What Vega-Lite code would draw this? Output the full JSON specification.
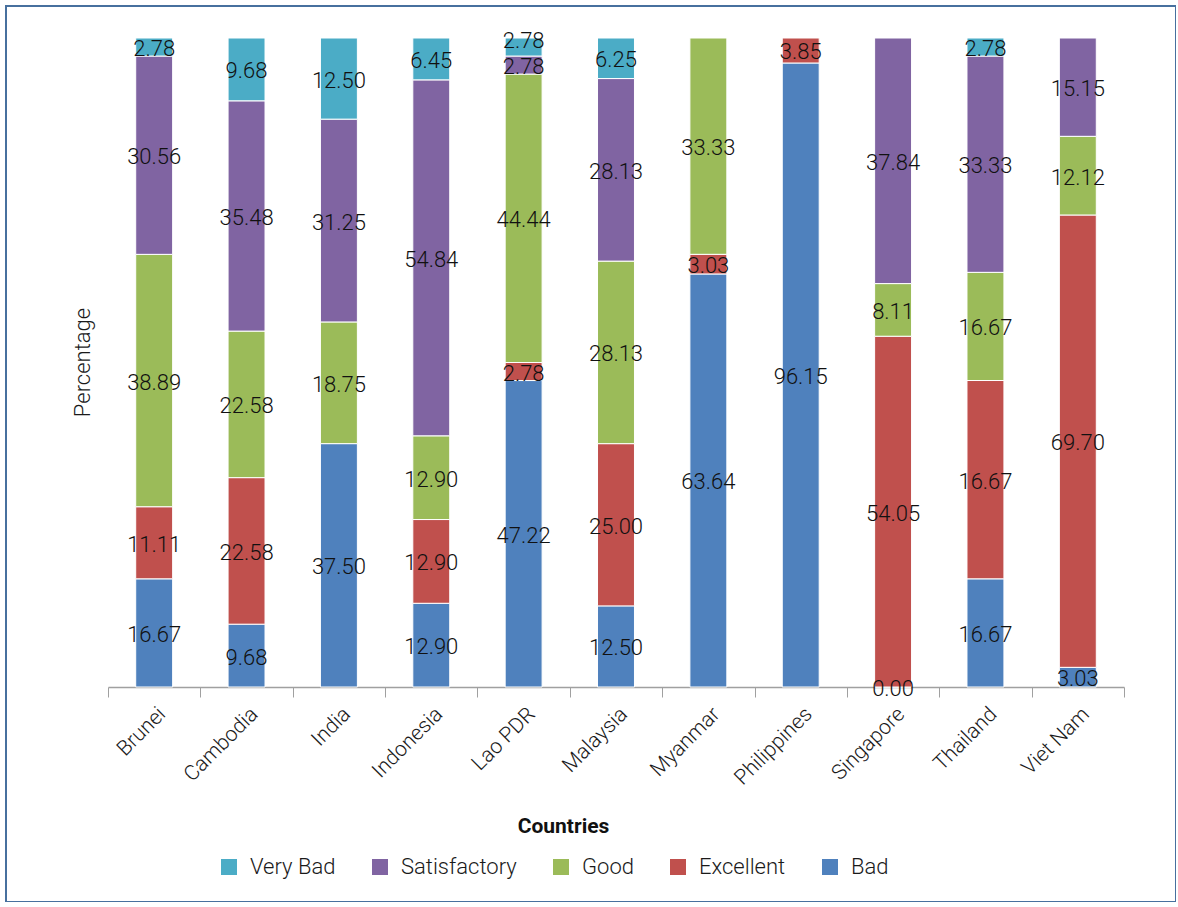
{
  "$schema": "https://vega.github.io/schema/vega-lite/v6.json",
  "width": 1170,
  "height": 896,
  "padding": {"left": 6, "top": 6, "right": 0, "bottom": 0},
  "autosize": {"type": "none"},
  "background": "#ffffff",
  "config": {
    "font": "Roboto",
    "view": {"stroke": "#47709E", "strokeWidth": 2},
    "axis": {"grid": false}
  },
  "data": {
    "values": [
      {"country": "Brunei", "rating": "Bad", "value": 16.67, "label": "16.67"},
      {"country": "Brunei", "rating": "Excellent", "value": 11.11, "label": "11.11"},
      {"country": "Brunei", "rating": "Good", "value": 38.89, "label": "38.89"},
      {"country": "Brunei", "rating": "Satisfactory", "value": 30.56, "label": "30.56"},
      {"country": "Brunei", "rating": "Very Bad", "value": 2.78, "label": "2.78"},
      {"country": "Cambodia", "rating": "Bad", "value": 9.68, "label": "9.68"},
      {"country": "Cambodia", "rating": "Excellent", "value": 22.58, "label": "22.58"},
      {"country": "Cambodia", "rating": "Good", "value": 22.58, "label": "22.58"},
      {"country": "Cambodia", "rating": "Satisfactory", "value": 35.48, "label": "35.48"},
      {"country": "Cambodia", "rating": "Very Bad", "value": 9.68, "label": "9.68"},
      {"country": "India", "rating": "Bad", "value": 37.5, "label": "37.50"},
      {"country": "India", "rating": "Good", "value": 18.75, "label": "18.75"},
      {"country": "India", "rating": "Satisfactory", "value": 31.25, "label": "31.25"},
      {"country": "India", "rating": "Very Bad", "value": 12.5, "label": "12.50"},
      {"country": "Indonesia", "rating": "Bad", "value": 12.9, "label": "12.90"},
      {"country": "Indonesia", "rating": "Excellent", "value": 12.9, "label": "12.90"},
      {"country": "Indonesia", "rating": "Good", "value": 12.9, "label": "12.90"},
      {"country": "Indonesia", "rating": "Satisfactory", "value": 54.84, "label": "54.84"},
      {"country": "Indonesia", "rating": "Very Bad", "value": 6.45, "label": "6.45"},
      {"country": "Lao PDR", "rating": "Bad", "value": 47.22, "label": "47.22"},
      {"country": "Lao PDR", "rating": "Excellent", "value": 2.78, "label": "2.78"},
      {"country": "Lao PDR", "rating": "Good", "value": 44.44, "label": "44.44"},
      {"country": "Lao PDR", "rating": "Satisfactory", "value": 2.78, "label": "2.78"},
      {"country": "Lao PDR", "rating": "Very Bad", "value": 2.78, "label": "2.78"},
      {"country": "Malaysia", "rating": "Bad", "value": 12.5, "label": "12.50"},
      {"country": "Malaysia", "rating": "Excellent", "value": 25.0, "label": "25.00"},
      {"country": "Malaysia", "rating": "Good", "value": 28.13, "label": "28.13"},
      {"country": "Malaysia", "rating": "Satisfactory", "value": 28.13, "label": "28.13"},
      {"country": "Malaysia", "rating": "Very Bad", "value": 6.25, "label": "6.25"},
      {"country": "Myanmar", "rating": "Bad", "value": 63.64, "label": "63.64"},
      {"country": "Myanmar", "rating": "Excellent", "value": 3.03, "label": "3.03"},
      {"country": "Myanmar", "rating": "Good", "value": 33.33, "label": "33.33"},
      {"country": "Philippines", "rating": "Bad", "value": 96.15, "label": "96.15"},
      {"country": "Philippines", "rating": "Excellent", "value": 3.85, "label": "3.85"},
      {"country": "Singapore", "rating": "Bad", "value": 0.0, "label": "0.00"},
      {"country": "Singapore", "rating": "Excellent", "value": 54.05, "label": "54.05"},
      {"country": "Singapore", "rating": "Good", "value": 8.11, "label": "8.11"},
      {"country": "Singapore", "rating": "Satisfactory", "value": 37.84, "label": "37.84"},
      {"country": "Thailand", "rating": "Bad", "value": 16.67, "label": "16.67"},
      {"country": "Thailand", "rating": "Excellent", "value": 30.56, "label": "16.67"},
      {"country": "Thailand", "rating": "Good", "value": 16.67, "label": "16.67"},
      {"country": "Thailand", "rating": "Satisfactory", "value": 33.33, "label": "33.33"},
      {"country": "Thailand", "rating": "Very Bad", "value": 2.78, "label": "2.78"},
      {"country": "Viet Nam", "rating": "Bad", "value": 3.03, "label": "3.03"},
      {"country": "Viet Nam", "rating": "Excellent", "value": 69.7, "label": "69.70"},
      {"country": "Viet Nam", "rating": "Good", "value": 12.12, "label": "12.12"},
      {"country": "Viet Nam", "rating": "Satisfactory", "value": 15.15, "label": "15.15"}
    ]
  },
  "transform": [
    {"stack": "value", "groupby": ["country"], "sort": [{"field": "rating", "order": "ascending"}], "as": ["y0", "y1"], "offset": "normalize"},
    {"calculate": "(datum.y0 + datum.y1) / 2", "as": "mid"}
  ],
  "encoding": {
    "x": {
      "field": "country",
      "type": "nominal",
      "sort": null,
      "scale": {"range": [102, 1118], "paddingInner": 0, "paddingOuter": 0},
      "axis": {
        "orient": "bottom",
        "offset": -215,
        "tickBand": "extent",
        "labelAngle": -45,
        "labelFontSize": 21,
        "labelFontWeight": 300,
        "labelColor": "#1a1a1a",
        "labelPadding": 6,
        "tickSize": 10,
        "tickColor": "#a0a0a0",
        "domainColor": "#a0a0a0",
        "domainWidth": 1.5,
        "title": "Countries",
        "titleFontSize": 21,
        "titleFontWeight": "bold",
        "titleColor": "#111111",
        "titleX": 557,
        "titleY": 139,
        "titleBaseline": "middle",
        "titleAlign": "center"
      }
    }
  },
  "layer": [
    {
      "mark": {"type": "bar", "width": {"band": 0.4}, "stroke": "#ffffff", "strokeWidth": 1},
      "encoding": {
        "y": {
          "field": "y0",
          "type": "quantitative",
          "scale": {"domain": [-0.33127, 1.04931], "nice": false, "zero": false},
          "axis": {
            "labels": false,
            "ticks": false,
            "domain": false,
            "title": "Percentage",
            "titleFontSize": 22,
            "titleFontWeight": 300,
            "titleColor": "#1a1a1a",
            "titleX": 76,
            "titleY": 356,
            "titleAngle": -90,
            "titleBaseline": "middle",
            "titleAlign": "center"
          }
        },
        "y2": {"field": "y1"},
        "color": {
          "field": "rating",
          "type": "nominal",
          "scale": {
            "domain": ["Very Bad", "Satisfactory", "Good", "Excellent", "Bad"],
            "range": ["#4BACC6", "#8064A2", "#9BBB59", "#C0504D", "#4F81BD"]
          },
          "legend": {
            "title": null,
            "orient": "none",
            "direction": "horizontal",
            "columns": 5,
            "legendX": 212,
            "legendY": 850,
            "padding": 0,
            "symbolType": "square",
            "symbolSize": 256,
            "symbolStrokeWidth": 0,
            "symbolOpacity": 1,
            "labelFontSize": 22,
            "labelFontWeight": 300,
            "labelColor": "#1a1a1a",
            "labelOffset": 10,
            "columnPadding": 33
          }
        }
      }
    },
    {
      "transform": [{"filter": "!(datum.country === 'Lao PDR' && datum.rating === 'Very Bad')"}],
      "mark": {"type": "text", "fontSize": 22, "fontWeight": 300, "color": "#111111", "baseline": "middle", "align": "center", "dy": 2},
      "encoding": {
        "y": {"field": "mid", "type": "quantitative"},
        "text": {"field": "label"}
      }
    },
    {
      "transform": [{"filter": "datum.country === 'Lao PDR' && datum.rating === 'Very Bad'"}],
      "mark": {"type": "text", "fontSize": 22, "fontWeight": 300, "color": "#111111", "baseline": "middle", "align": "center", "dy": -6},
      "encoding": {
        "y": {"field": "mid", "type": "quantitative"},
        "text": {"field": "label"}
      }
    }
  ]
}
